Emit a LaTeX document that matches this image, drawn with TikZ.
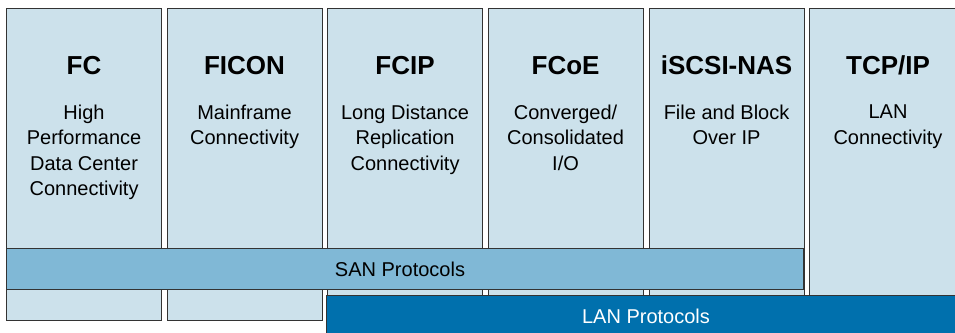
\documentclass[tikz,border=0pt]{standalone}
\usepackage{fontspec}
\setmainfont{Liberation Sans}
\definecolor{boxfill}{HTML}{CCE1EB}
\definecolor{sanfill}{HTML}{80B8D6}
\definecolor{lanfill}{HTML}{0070AD}
\definecolor{edge}{HTML}{333333}
\tikzset{
  colbox/.style={draw=edge, line width=1.1pt, fill=boxfill, anchor=north west, inner sep=0pt, minimum width=155pt, minimum height=312pt},
  titletext/.style={font=\fontsize{26}{30}\selectfont\bfseries, anchor=base, inner sep=0pt},
  bodytext/.style={font=\fontsize{20}{25.5}\selectfont, align=center, anchor=north, inner sep=0pt},
  sanbar/.style={draw=edge, line width=1.1pt, fill=sanfill, anchor=north west, inner sep=0pt, minimum width=797pt, minimum height=41pt},
  lanbar/.style={draw=edge, line width=1.1pt, fill=lanfill, anchor=north west, inner sep=0pt, minimum width=640pt, minimum height=50pt},
  bartext/.style={font=\fontsize{20}{24}\selectfont, anchor=base, inner sep=0pt}
}
\begin{document}
\begin{tikzpicture}[x=1pt,y=1pt]
\useasboundingbox (0,0) rectangle (955,-332);
\clip (0,0) rectangle (955,-332);
% columns
\node[colbox] (c1) at (6,-8) {};
\node[colbox] (c2) at (166.5,-8) {};
\node[colbox] (c3) at (327,-8) {};
\node[colbox] (c4) at (487.5,-8) {};
\node[colbox] (c5) at (648.5,-8) {};
\node[colbox, minimum width=160pt, minimum height=292pt] (c6) at (809,-8) {};
% titles
\node[titletext] (t1) at (c1.north |- 0,-74) {FC};
\node[titletext] (t2) at (c2.north |- 0,-74) {FICON};
\node[titletext] (t3) at (c3.north |- 0,-74) {FCIP};
\node[titletext] (t4) at (c4.north |- 0,-74) {FCoE};
\node[titletext] (t5) at (c5.north |- 0,-74) {iSCSI-NAS};
\node[titletext] (t6) at (888,-74) {TCP/IP};
% descriptions
\node[bodytext] (d1) at (c1.north |- 0,-104.7) {High\\Performance\\Data Center\\Connectivity};
\node[bodytext] (d2) at (c2.north |- 0,-104.7) {Mainframe\\Connectivity};
\node[bodytext] (d3) at (c3.north |- 0,-104.7) {Long Distance\\Replication\\Connectivity};
\node[bodytext] (d4) at (c4.north |- 0,-104.7) {Converged/\\Consolidated\\I/O};
\node[bodytext] (d5) at (c5.north |- 0,-104.7) {File and Block\\Over IP};
\node[bodytext] (d6) at (888,-104.7) {LAN\\Connectivity};
% protocol bars
\node[sanbar] (san) at (6,-248) {};
\node[bartext] (santext) at (400,-276) {SAN Protocols};
\node[lanbar] (lan) at (326,-295) {};
\node[bartext, text=white] (lantext) at (646,-323) {LAN Protocols};
\end{tikzpicture}
\end{document}
